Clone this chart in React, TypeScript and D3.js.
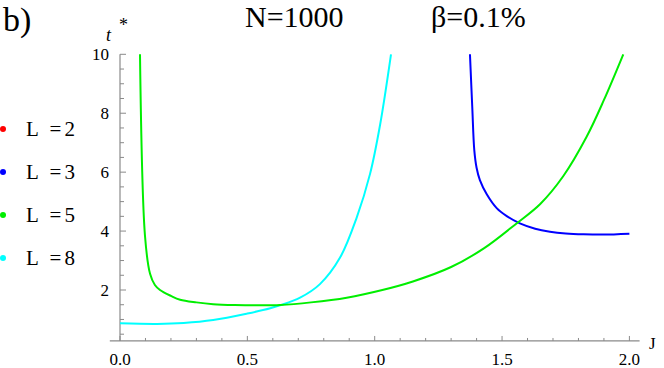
import React from "react";
import * as d3 from "d3";

const xTicksMajor = [0, 0.5, 1.0, 1.5, 2.0];
const xTickLabels = ["0.0", "0.5", "1.0", "1.5", "2.0"];
const yTicksMajor = [2, 4, 6, 8, 10];
const yTickLabels = ["2", "4", "6", "8", "10"];

const legendLabels = ["L =2", "L =3", "L =5", "L =8"];
const legendColors = ["#ff0000", "#0000ff", "#00ee00", "#00ffff"];

// L=3 (blue)
const blueJ = [1.374, 1.383, 1.391, 1.4, 1.413, 1.44, 1.479, 1.52, 1.57, 1.63, 1.688, 1.75, 1.82, 1.897, 2.0];
const blueT = [10, 8.22, 6.75, 6.15, 5.73, 5.25, 4.78, 4.5, 4.26, 4.08, 3.98, 3.92, 3.89, 3.88, 3.91];

// L=5 (green)
const greenJ = [0.0785, 0.098, 0.118, 0.137, 0.157, 0.2, 0.236, 0.3, 0.366, 0.45, 0.55, 0.628, 0.75, 0.89, 1.03, 1.15, 1.3, 1.43, 1.557, 1.65, 1.74, 1.832, 1.9, 1.976];
const greenT = [10, 3.85, 2.55, 2.17, 2.0, 1.8, 1.67, 1.58, 1.52, 1.49, 1.48, 1.49, 1.58, 1.74, 2.0, 2.29, 2.78, 3.42, 4.26, 4.92, 5.86, 7.2, 8.45, 10];

// L=8 (cyan)
const cyanJ = [0, 0.145, 0.25, 0.366, 0.5, 0.59, 0.628, 0.707, 0.785, 0.864, 0.929, 0.982, 1.021, 1.064];
const cyanT = [0.87, 0.85, 0.88, 0.98, 1.2, 1.38, 1.48, 1.74, 2.2, 3.1, 4.45, 5.95, 7.6, 10];

const W = 664;
const H = 368;

export default function App() {
  const x = d3.scaleLinear().domain([0, 2]).range([120, 629.4]);
  const y = d3.scaleLinear().domain([2, 10]).range([290, 54.3]);
  const xMin = -0.04, xMax = 2.04, yMin = 0.27, yMax = 10;
  const axisColor = "#8a8a8a";
  const serif = "Liberation Serif";
  const ts = { fontFamily: serif };

  const line = d3
    .line<[number, number]>()
    .x((d) => x(d[0]))
    .y((d) => y(d[1]))
    .curve(d3.curveCatmullRom.alpha(0.5));

  const series = [
    { J: blueJ, T: blueT, color: legendColors[1] },
    { J: cyanJ, T: cyanT, color: legendColors[3] },
    { J: greenJ, T: greenT, color: legendColors[2] },
  ];

  const xMinor = d3.range(0, 21).map((i) => i / 10).filter((v) => Math.abs(v * 2 - Math.round(v * 2)) > 1e-6);
  const yMinor = d3.range(1, 21).map((i) => i / 2).filter((v) => Math.abs(v / 2 - Math.round(v / 2)) > 1e-6);
  const x0 = x(0);
  const yAxisY = y(yMin);

  return (
    <svg width={W} height={H} style={{ position: "absolute", left: 0, top: 0, background: "#fff" }}>
      {/* titles */}
      <text x={3} y={31} fontSize={34} style={ts}>b)</text>
      <text x={245} y={27} fontSize={30} style={ts}>N=1000</text>
      <text x={431} y={27} fontSize={30} style={ts}>β=0.1%</text>
      <text x={106} y={41} fontSize={18} fontStyle="italic" style={ts}>t</text>
      <text x={119} y={31} fontSize={18} style={ts}>*</text>
      <text x={649} y={349} fontSize={17} style={ts}>J</text>

      {/* axes */}
      <line x1={x(xMin)} x2={x(xMax)} y1={yAxisY} y2={yAxisY} stroke={axisColor} strokeWidth={1.2} />
      <line x1={x0} x2={x0} y1={yAxisY} y2={y(yMax)} stroke={axisColor} strokeWidth={1.2} />
      {xTicksMajor.map((v, i) => (
        <g key={"xt" + i}>
          <line x1={x(v)} x2={x(v)} y1={yAxisY} y2={yAxisY - 5} stroke={axisColor} strokeWidth={1} />
          <text x={x(v)} y={365} fontSize={17} textAnchor="middle" style={ts}>{xTickLabels[i]}</text>
        </g>
      ))}
      {xMinor.map((v, i) => (
        <line key={"xm" + i} x1={x(v)} x2={x(v)} y1={yAxisY} y2={yAxisY - 3} stroke={axisColor} strokeWidth={1} />
      ))}
      {yTicksMajor.map((v, i) => (
        <g key={"yt" + i}>
          <line x1={x0} x2={x0 + 6} y1={y(v)} y2={y(v)} stroke={axisColor} strokeWidth={1} />
          <text x={109} y={y(v) + 6} fontSize={17} textAnchor="end" style={ts}>{yTickLabels[i]}</text>
        </g>
      ))}
      {yMinor.map((v, i) => (
        <line key={"ym" + i} x1={x0} x2={x0 + 4} y1={y(v)} y2={y(v)} stroke={axisColor} strokeWidth={1} />
      ))}

      {/* curves */}
      {series.map((s, i) => (
        <path
          key={"s" + i}
          d={line(s.J.map((j, k) => [j, s.T[k]] as [number, number])) || ""}
          fill="none"
          stroke={s.color}
          strokeWidth={2}
        />
      ))}

      {/* legend */}
      {legendLabels.map((lab, i) => (
        <g key={"lg" + i}>
          <circle cx={3} cy={129 + i * 43} r={3} fill={legendColors[i]} />
          <text x={26} y={129 + i * 43 + 7} fontSize={21} textLength={49} lengthAdjust="spacing" style={ts}>{lab}</text>
        </g>
      ))}
    </svg>
  );
}
